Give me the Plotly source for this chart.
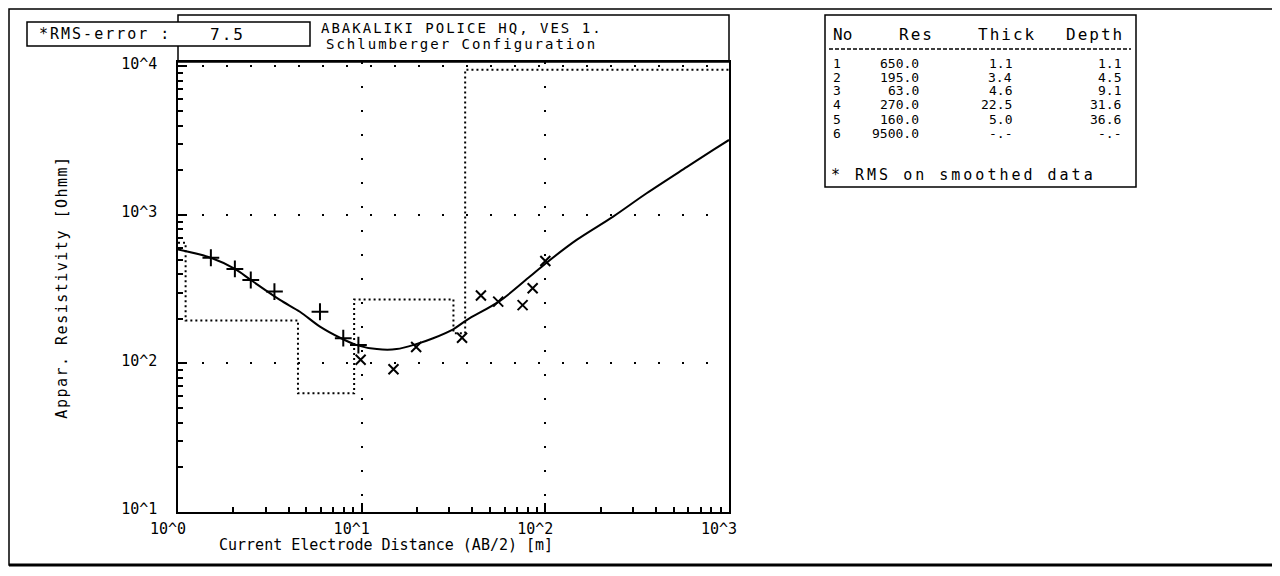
import plotly.graph_objects as go

# ---------------- data ----------------
# model (fitted) curve
curve_ab2 = [1.0, 1.51, 2.04, 2.49, 3.59, 4.61, 5.93, 7.62, 9.40, 12.1, 15.5, 19.8, 24.5,
             31.5, 37.3, 56.6, 82.4, 100, 148, 234, 356, 588, 821, 1000]
curve_rho = [585, 515, 433, 365, 268, 223, 177, 149, 133, 125, 125, 135, 148,
             170, 196, 264, 385, 470, 679, 975, 1400, 2100, 2740, 3200]

# field data, segment 1 ("+") and segment 2 ("x")
seg1_ab2 = [1.51, 2.04, 2.49, 3.35, 5.93, 7.94, 9.6]
seg1_rho = [515, 433, 365, 305, 223, 148, 133]
seg2_ab2 = [9.87, 14.9, 19.8, 35.2, 44.6, 55.4, 75.2, 85.3, 100]
seg2_rho = [106, 91.5, 129, 149, 287, 261, 247, 321, 490]

# layer model
layer_no = [1, 2, 3, 4, 5, 6]
layer_res = [650.0, 195.0, 63.0, 270.0, 160.0, 9500.0]
layer_thick = [1.1, 3.4, 4.6, 22.5, 5.0, None]
layer_depth = [1.1, 4.5, 9.1, 31.6, 36.6, None]

rms_error = 7.5
x_tickvals = [1, 10, 100, 1000]
x_ticktext = ["10^0", "10^1", "10^2", "10^3"]
y_tickvals = [10, 100, 1000, 10000]
y_ticktext = ["10^1", "10^2", "10^3", "10^4"]

# ---------------- layout geometry helpers ----------------
OFF = 8                      # page body margin
W, H = 1280 - OFF, 576 - OFF
L, R, T, B = 178 - OFF, 729 - OFF, 62 - OFF, 512 - OFF


def PX(px):                  # reference-screen x -> paper
    return (px - OFF - L) / (R - L)


def PY(py):                  # reference-screen y -> paper
    return (B - (py - OFF)) / (B - T)


MONO = "DejaVu Sans Mono"


def spaced(s, sp):
    return f"<span style='letter-spacing:{sp}px'>{s}</span>"


# step line of the layered model
step_x = [1.0]
step_y = [layer_res[0]]
for i, d in enumerate(layer_depth):
    if d is None:
        step_x.append(1000)
        step_y.append(layer_res[i])
    else:
        step_x += [d, d]
        step_y += [layer_res[i], layer_res[i + 1]]

fig = go.Figure()
fig.add_trace(go.Scatter(x=step_x, y=step_y, mode="lines",
                         line=dict(color="black", width=2, dash="2px,3px"),
                         hoverinfo="skip"))
fig.add_trace(go.Scatter(x=curve_ab2, y=curve_rho, mode="lines",
                         line=dict(color="black", width=2, shape="spline", smoothing=0.9)))
fig.add_trace(go.Scatter(x=seg1_ab2, y=seg1_rho, mode="markers",
                         marker=dict(symbol="cross-thin", size=12,
                                     line=dict(color="black", width=2))))
fig.add_trace(go.Scatter(x=seg2_ab2, y=seg2_rho, mode="markers",
                         marker=dict(symbol="x-thin", size=10,
                                     line=dict(color="black", width=2))))

minor_x = [k * 10 ** d for d in range(0, 3) for k in range(2, 10)]
minor_y = [k * 10 ** d for d in range(1, 4) for k in range(2, 10)]

axis_common = dict(
    type="log", ticks="inside", ticklen=9, tickwidth=1.5, tickcolor="black",
    showline=True, linecolor="black", linewidth=1.5, mirror=True,
    showgrid=True, gridcolor="black", gridwidth=2, griddash="2px,22px",
    zeroline=False, tickfont=dict(family=MONO, size=15, color="black"),
)

fig.update_xaxes(**axis_common, range=[0, 3], tickvals=x_tickvals, ticktext=x_ticktext,
                 minor=dict(tickvals=minor_x, ticks="inside", ticklen=5,
                            tickcolor="black", showgrid=False),
                 ticklabelshift=-10, ticklabelstandoff=2)
fig.update_yaxes(**axis_common, range=[1, 4.03], tickvals=y_tickvals, ticktext=y_ticktext,
                 minor=dict(tickvals=minor_y, ticks="inside", ticklen=5,
                            tickcolor="black", showgrid=False),
                 ticklabelshift=-3, ticklabelstandoff=16,
                 title=dict(text=spaced("Appar. Resistivity [Ohmm]", 1.5),
                            font=dict(family=MONO, size=15, color="black"),
                            standoff=50))

shapes = []
# outer frame
shapes.append(dict(type="rect", xref="paper", yref="paper",
                   x0=PX(9), x1=PX(1276), y0=PY(565), y1=PY(9),
                   line=dict(color="black", width=1.5)))
shapes.append(dict(type="line", xref="paper", yref="paper",
                   x0=PX(9), x1=PX(1276), y0=PY(565), y1=PY(565),
                   line=dict(color="black", width=3)))
# title box
shapes.append(dict(type="rect", xref="paper", yref="paper",
                   x0=PX(178), x1=PX(729), y0=PY(62), y1=PY(15),
                   line=dict(color="black", width=1.5)))
# RMS box
shapes.append(dict(type="rect", xref="paper", yref="paper",
                   x0=PX(27), x1=PX(310), y0=PY(46), y1=PY(22),
                   fillcolor="white", line=dict(color="black", width=1.5), layer="above"))
# table box
shapes.append(dict(type="rect", xref="paper", yref="paper",
                   x0=PX(825), x1=PX(1136), y0=PY(187), y1=PY(15),
                   line=dict(color="black", width=1.5)))
shapes.append(dict(type="line", xref="paper", yref="paper",
                   x0=PX(829), x1=PX(1131), y0=PY(49), y1=PY(49),
                   line=dict(color="black", width=1.5, dash="4px,2px")))

ann = []


def text(px, py, s, size=15, anchor="left"):
    ann.append(dict(xref="paper", yref="paper", x=PX(px), y=PY(py), text=s,
                    showarrow=False, xanchor=anchor, yanchor="middle",
                    font=dict(family=MONO, size=size, color="black")))


text(37, 34, spaced("*RMS-error :", 2), 15)
text(247, 34, spaced(f"{rms_error:.1f}", 2), 16, "right")
text(319, 28, spaced("ABAKALIKI POLICE HQ, VES 1.", 2), 14)
text(324, 44, spaced("Schlumberger Configuration", 2), 14)
text(386, 545, "Current Electrode Distance (AB/2) [m]", 15, "center")

# table
text(831, 35, "No", 16)
text(936, 35, spaced("Res", 2), 16, "right")
text(1007, 35, spaced("Thick", 2), 16, "center")
text(1126, 35, spaced("Depth", 2), 16, "right")
for i, n in enumerate(layer_no):
    yy = 63 + i * 14
    text(837, yy, str(n), 13, "center")
    text(921, yy, f"{layer_res[i]:.1f}", 13, "right")
    th = "-.-" if layer_thick[i] is None else f"{layer_thick[i]:.1f}"
    dp = "-.-" if layer_depth[i] is None else f"{layer_depth[i]:.1f}"
    text(1014, yy, th, 13, "right")
    text(1123, yy, dp, 13, "right")
text(829, 175, spaced("* RMS on smoothed data", 3), 15)

fig.update_layout(width=W, height=H, margin=dict(l=L, r=W - R, t=T, b=H - B),
                  plot_bgcolor="white", paper_bgcolor="white", showlegend=False,
                  shapes=shapes, annotations=ann)

fig.write_html("out.html")
